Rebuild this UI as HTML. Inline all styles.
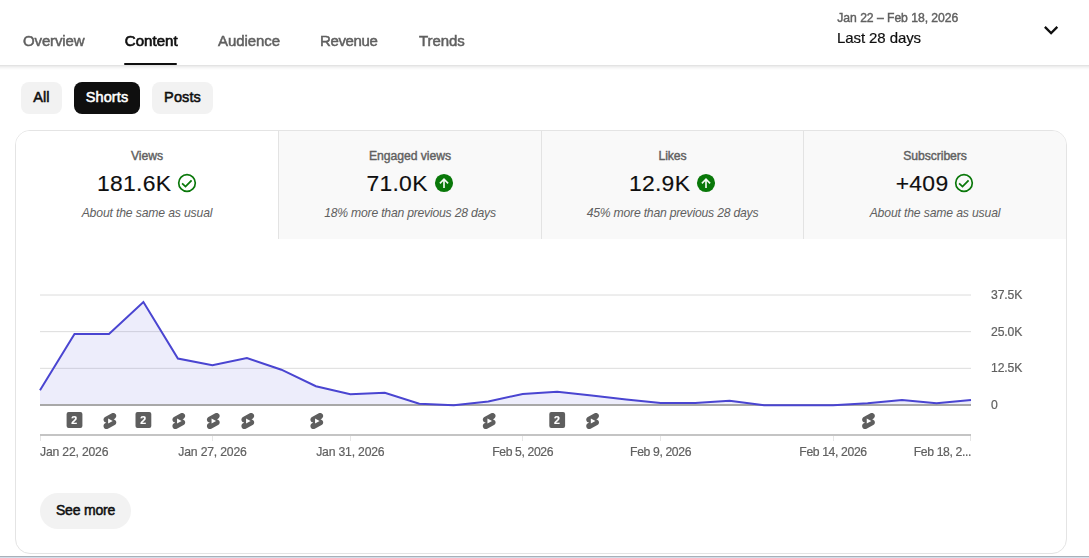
<!DOCTYPE html>
<html>
<head>
<meta charset="utf-8">
<title>Channel analytics</title>
<style>
  html, body { margin: 0; padding: 0; }
  body {
    width: 1089px; height: 558px; overflow: hidden; position: relative;
    background: #ffffff;
    font-family: "Liberation Sans", sans-serif;
    color: #0f0f0f;
  }
  #root { position: absolute; left: 0; top: 0; width: 1089px; height: 558px; }
  #glabels { position: absolute; left: 0; top: 0; width: 1089px; height: 470px; will-change: transform; pointer-events: none; }
  .abs { position: absolute; white-space: nowrap; }

  /* ---------- header ---------- */
  #header {
    position: absolute; left: 0; top: 0; width: 1089px; height: 65px;
    will-change: transform;
  }
  #hshadow { position:absolute; left:0; top:65px; width:1089px; height:5px; background: linear-gradient(to bottom, rgba(0,0,0,0.13), rgba(0,0,0,0.05) 40%, rgba(0,0,0,0)); }
  .tab {
    position: absolute; top: 31.6px; height: 18px; line-height: 18px;
    font-size: 15px; color: #606060; white-space: nowrap;
    -webkit-text-stroke: 0.5px #606060;
  }
  .tab.sel { color: #0f0f0f; -webkit-text-stroke: 0.65px #0f0f0f; }
  #underline { position: absolute; left: 124px; top: 63px; width: 53px; height: 2px; background: #0f0f0f; border-radius: 1px; }

  #daterange { left: 837.3px; top: 10px; letter-spacing: -0.05px; font-size: 12.2px; line-height: 16px; color: #606060; -webkit-text-stroke: 0.4px #606060; }
  #datelabel { left: 837px; top: 28px; letter-spacing: -0.09px; font-size: 15px; line-height: 20px; color: #0f0f0f; -webkit-text-stroke: 0.2px #0f0f0f; }

  /* ---------- chips ---------- */
  .chip {
    position: absolute; top: 82px; height: 32px; line-height: 31px;
    border-radius: 8px; background: #f2f2f2; color: #0f0f0f;
    font-size: 14.5px; text-align: center; white-space: nowrap; letter-spacing: 0.1px;
    -webkit-text-stroke: 0.55px #0f0f0f;
  }
  .chip.sel { background: #0f0f0f; color: #fff; -webkit-text-stroke: 0.55px #fff; }

  /* ---------- card ---------- */
  #card {
    position: absolute; left: 15px; top: 130px; width: 1050px; height: 422px;
    border: 1px solid #e4e4e4; border-radius: 15px; background: #fff;
    overflow: hidden;
  }
  .mtab {
    position: absolute; top: 0; height: 108px; background: #f9f9f9;
    border-left: 1px solid #e3e3e3; box-sizing: border-box;
  }
  .mtab.sel { background: #fff; border-left: none; }
  .mtab .t { position: absolute; left: 0; right: 0; top: 17px; text-align: center; font-size: 12.2px; letter-spacing: -0.06px; line-height: 16px; color: #606060; -webkit-text-stroke: 0.4px #606060; }
  .mtab .v { position: absolute; left: 0; right: 0; top: 38px; height: 28px; display: flex; justify-content: center; align-items: center; font-size: 22.9px; line-height: 28px; color: #0f0f0f; white-space: nowrap; letter-spacing: 0.3px; -webkit-text-stroke: 0.15px #0f0f0f; }
  .mtab .v svg { margin-left: 5.9px; position: relative; top: -0.2px; flex: none; }
  .mtab .s { position: absolute; left: 0; right: 0; top: 74px; text-align: center; font-size: 12.2px; letter-spacing: -0.15px; line-height: 16px; font-style: italic; color: #606060; }
  .mtab .s.m { letter-spacing: -0.22px; }

  /* ---------- chart ---------- */
  #chart { position: absolute; left: 0; top: 270px; will-change: transform; }
  .xl { position: absolute; top: 444px; letter-spacing: -0.18px; font-size: 12.2px; line-height: 16px; color: #606060; white-space: nowrap; -webkit-text-stroke: 0.2px #606060; }
  .xl.c { transform: translateX(-50%); }
  .xl.f { letter-spacing: -0.37px; }
  .yl { position: absolute; left: 991px; letter-spacing: -0.13px; font-size: 12.2px; line-height: 16px; color: #606060; white-space: nowrap; -webkit-text-stroke: 0.2px #606060; }

  #seemore {
    position: absolute; left: 40px; top: 493px; width: 91px; height: 36px; line-height: 35px;
    border-radius: 18px; background: #f2f2f2; color: #0f0f0f; text-align: center;
    font-size: 14px; letter-spacing: -0.2px; -webkit-text-stroke: 0.5px #0f0f0f;
  }

  #strip1 { display: none; }
  #strip2 { position: absolute; left: 0; top: 556px; width: 1089px; height: 1px; background: #a8b0b9; }
  #strip3 { position: absolute; left: 0; top: 557px; width: 1089px; height: 1px; background: #d2deea; }
</style>
</head>
<body>
<div id="root">

<div id="header">
  <div class="tab" style="left:23px;letter-spacing:-0.13px">Overview</div>
  <div class="tab sel" style="left:124.8px;letter-spacing:0.04px">Content</div>
  <div class="tab" style="left:218px;letter-spacing:-0.07px">Audience</div>
  <div class="tab" style="left:320px;letter-spacing:-0.36px">Revenue</div>
  <div class="tab" style="left:419px;letter-spacing:-0.1px">Trends</div>
  <div id="underline"></div>
  <div class="abs" id="daterange">Jan 22 – Feb 18, 2026</div>
  <div class="abs" id="datelabel">Last 28 days</div>
  <svg class="abs" style="left:1036.9px;top:16.2px" width="28.2" height="28.2" viewBox="0 0 24 24"><path d="M16.59 8.59 L12 13.17 L7.41 8.59 L6 10 L12 16 L18 10 Z" fill="#0f0f0f"/></svg>
</div>

<div id="hshadow"></div>
<div class="chip" style="left:21px;width:41px">All</div>
<div class="chip sel" style="left:74px;width:66px">Shorts</div>
<div class="chip" style="left:152px;width:61px">Posts</div>

<div id="card">
  <div class="mtab sel" style="left:0;width:262px">
    <div class="t">Views</div>
    <div class="v">181.6K<svg width="20" height="20" viewBox="0 0 20 20"><circle cx="10" cy="10" r="8.3" fill="none" stroke="#0b780b" stroke-width="1.7"/><path d="M5.1 10.4 L8.5 13.6 L14.6 7.3" fill="none" stroke="#0b780b" stroke-width="1.8"/></svg></div>
    <div class="s">About the same as usual</div>
  </div>
  <div class="mtab" style="left:262px;width:263px">
    <div class="t">Engaged views</div>
    <div class="v">71.0K<svg width="20" height="20" viewBox="0 0 20 20"><circle cx="10" cy="10" r="9.05" fill="#097809"/><path d="M10 6.5 L10 14.9 M5.9 10.3 L10 6.2 L14.1 10.3" fill="none" stroke="#f4faf4" stroke-width="1.65"/></svg></div>
    <div class="s m">18% more than previous 28 days</div>
  </div>
  <div class="mtab" style="left:525px;width:262px">
    <div class="t">Likes</div>
    <div class="v">12.9K<svg width="20" height="20" viewBox="0 0 20 20"><circle cx="10" cy="10" r="9.05" fill="#097809"/><path d="M10 6.5 L10 14.9 M5.9 10.3 L10 6.2 L14.1 10.3" fill="none" stroke="#f4faf4" stroke-width="1.65"/></svg></div>
    <div class="s m">45% more than previous 28 days</div>
  </div>
  <div class="mtab" style="left:787px;width:263px">
    <div class="t">Subscribers</div>
    <div class="v">+409<svg width="20" height="20" viewBox="0 0 20 20"><circle cx="10" cy="10" r="8.3" fill="none" stroke="#0b780b" stroke-width="1.7"/><path d="M5.1 10.4 L8.5 13.6 L14.6 7.3" fill="none" stroke="#0b780b" stroke-width="1.8"/></svg></div>
    <div class="s">About the same as usual</div>
  </div>
</div>

<svg id="chart" width="1089" height="180" viewBox="0 270 1089 180">
  <!-- gridlines -->
  <line x1="40" x2="971" y1="295" y2="295" stroke="#dcdcdc" stroke-width="1"/>
  <line x1="40" x2="971" y1="331.67" y2="331.67" stroke="#dcdcdc" stroke-width="1"/>
  <line x1="40" x2="971" y1="368.33" y2="368.33" stroke="#dcdcdc" stroke-width="1"/>
  <!-- area -->
  <path fill="rgba(83,76,212,0.10)" stroke="none" d="M40.0 390.2 L74.5 334.0 L109.0 334.0 L143.4 302.0 L177.9 358.5 L212.4 365.3 L246.9 358.0 L281.4 369.7 L315.9 386.2 L350.3 394.3 L384.8 392.8 L419.3 403.8 L453.8 405.3 L488.3 401.6 L522.7 393.9 L557.2 391.7 L591.7 395.5 L626.2 399.5 L660.7 403.1 L695.1 403.1 L729.6 400.8 L764.1 405.3 L798.6 405.3 L833.1 405.3 L867.6 403.2 L902.0 399.9 L936.5 403.2 L971.0 399.9 L971 405 L40 405 Z"/>
  <!-- baseline -->
  <line x1="40" x2="971" y1="405" y2="405" stroke="#a8a8a8" stroke-width="2"/>
  <path fill="none" stroke="#4a45d1" stroke-width="2" stroke-linejoin="miter" d="M40.0 390.2 L74.5 334.0 L109.0 334.0 L143.4 302.0 L177.9 358.5 L212.4 365.3 L246.9 358.0 L281.4 369.7 L315.9 386.2 L350.3 394.3 L384.8 392.8 L419.3 403.8 L453.8 405.3 L488.3 401.6 L522.7 393.9 L557.2 391.7 L591.7 395.5 L626.2 399.5 L660.7 403.1 L695.1 403.1 L729.6 400.8 L764.1 405.3 L798.6 405.3 L833.1 405.3 L867.6 403.2 L902.0 399.9 L936.5 403.2 L971.0 399.9"/>
  <!-- bottom axis -->
  <line x1="40" x2="971" y1="435" y2="435" stroke="#c4c4c4" stroke-width="2"/>
  <g stroke="#e6e6e6" stroke-width="1">
    <line x1="40.5" x2="40.5" y1="436" y2="441"/>
    <line x1="212.5" x2="212.5" y1="436" y2="441"/>
    <line x1="350.5" x2="350.5" y1="436" y2="441"/>
    <line x1="522.5" x2="522.5" y1="436" y2="441"/>
    <line x1="660.5" x2="660.5" y1="436" y2="441"/>
    <line x1="833.5" x2="833.5" y1="436" y2="441"/>
    <line x1="970.5" x2="970.5" y1="436" y2="441"/>
  </g>
  <defs><g id="sh"><g transform="translate(0.9 0.5) scale(0.8) translate(-12 -12)"><path fill="#5e5e5e" d="M17.77 10.32l-1.2-.5L18 9.06c1.84-.96 2.53-3.23 1.56-5.06s-3.24-2.53-5.07-1.56L6 6.94c-1.29.68-2.07 2.04-2 3.49.07 1.42.93 2.67 2.22 3.25.03.01 1.2.5 1.2.5L6 14.93c-1.83.97-2.53 3.24-1.56 5.07.97 1.83 3.24 2.53 5.07 1.56l8.5-4.5c1.29-.68 2.06-2.04 1.99-3.49-.07-1.42-.94-2.68-2.23-3.25z"/><path fill="#fff" d="M9.8 15v-6L15.5 12z"/></g></g></defs><g><g transform="translate(74.5 420)"><rect x="-7.9" y="-7.9" width="15.8" height="15.8" rx="2" fill="#5e5e5e"/><text x="-0.3" y="4.0" text-anchor="middle" font-family="Liberation Sans, sans-serif" font-weight="bold" font-size="10.6" fill="#fff" stroke="#fff" stroke-width="0.2">2</text></g><g transform="translate(143.4 420)"><rect x="-7.9" y="-7.9" width="15.8" height="15.8" rx="2" fill="#5e5e5e"/><text x="-0.3" y="4.0" text-anchor="middle" font-family="Liberation Sans, sans-serif" font-weight="bold" font-size="10.6" fill="#fff" stroke="#fff" stroke-width="0.2">2</text></g><g transform="translate(557.2 420)"><rect x="-7.9" y="-7.9" width="15.8" height="15.8" rx="2" fill="#5e5e5e"/><text x="-0.3" y="4.0" text-anchor="middle" font-family="Liberation Sans, sans-serif" font-weight="bold" font-size="10.6" fill="#fff" stroke="#fff" stroke-width="0.2">2</text></g><use href="#sh" x="109.0" y="420.5"/><use href="#sh" x="177.9" y="420.5"/><use href="#sh" x="212.4" y="420.5"/><use href="#sh" x="246.9" y="420.5"/><use href="#sh" x="315.9" y="420.5"/><use href="#sh" x="488.3" y="420.5"/><use href="#sh" x="591.7" y="420.5"/><use href="#sh" x="867.6" y="420.5"/></g>
</svg>

<div id="glabels">
<div class="xl" style="left:40px">Jan 22, 2026</div>
<div class="xl c" style="left:212.5px">Jan 27, 2026</div>
<div class="xl c" style="left:350.3px">Jan 31, 2026</div>
<div class="xl c f" style="left:522.7px">Feb 5, 2026</div>
<div class="xl c f" style="left:660.6px">Feb 9, 2026</div>
<div class="xl c f" style="left:833px">Feb 14, 2026</div>
<div class="xl f" style="left:auto;right:118px">Feb 18, 2...</div>

<div class="yl" style="top:287px">37.5K</div>
<div class="yl" style="top:324px">25.0K</div>
<div class="yl" style="top:360px">12.5K</div>
<div class="yl" style="top:397px">0</div>
</div>

<div id="seemore">See more</div>

<div id="strip1"></div><div id="strip2"></div><div id="strip3"></div>

</div>
</body>
</html>
